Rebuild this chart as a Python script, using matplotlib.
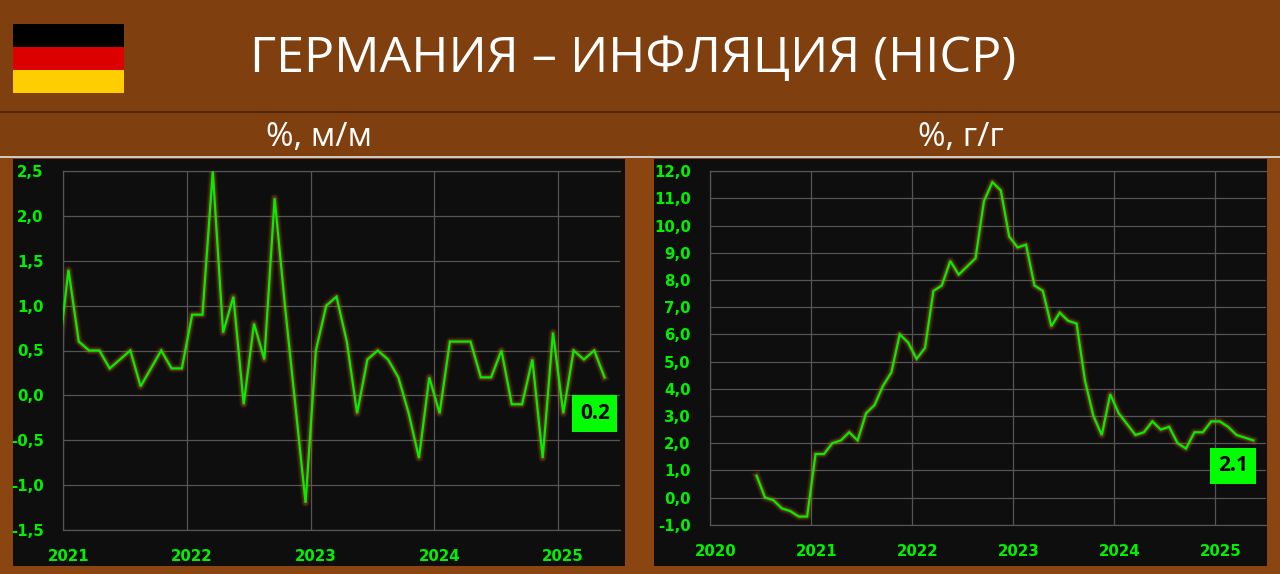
import numpy as np
import matplotlib
matplotlib.use("Agg")
import matplotlib.pyplot as plt
from matplotlib.patches import Rectangle
from matplotlib.transforms import ScaledTranslation

mom_values = [0.4, 1.4, 0.6, 0.5, 0.5, 0.3, 0.4, 0.5, 0.1, 0.3, 0.5, 0.3, 0.3,
              0.9, 0.9, 2.5, 0.7, 1.1, -0.1, 0.8, 0.4, 2.2, 1.0, -0.1, -1.2,
              0.5, 1.0, 1.1, 0.6, -0.2, 0.4, 0.5, 0.4, 0.2, -0.2, -0.7, 0.2,
              -0.2, 0.6, 0.6, 0.6, 0.2, 0.2, 0.5, -0.1, -0.1, 0.4, -0.7, 0.7,
              -0.2, 0.5, 0.4, 0.5, 0.2]
yoy_values = [0.8, 0.0, -0.1, -0.4, -0.5, -0.7, -0.7,
              1.6, 1.6, 2.0, 2.1, 2.4, 2.1, 3.1, 3.4, 4.1, 4.6, 6.0, 5.7,
              5.1, 5.5, 7.6, 7.8, 8.7, 8.2, 8.5, 8.8, 10.9, 11.6, 11.3, 9.6,
              9.2, 9.3, 7.8, 7.6, 6.3, 6.8, 6.5, 6.4, 4.3, 3.0, 2.3, 3.8,
              3.1, 2.7, 2.3, 2.4, 2.8, 2.5, 2.6, 2.0, 1.8, 2.4, 2.4, 2.8,
              2.8, 2.6, 2.3, 2.2, 2.1]
mom_years = [2021, 2022, 2023, 2024, 2025]
yoy_years = [2020, 2021, 2022, 2023, 2024, 2025]
mom_yticks = [-1.5, -1.0, -0.5, 0.0, 0.5, 1.0, 1.5, 2.0, 2.5]
yoy_yticks = [-1, 0, 1, 2, 3, 4, 5, 6, 7, 8, 9, 10, 11, 12]
title_text = "ГЕРМАНИЯ – ИНФЛЯЦИЯ (HICP)"
sub_left = "%, м/м"
sub_right = "%, г/г"

W, H = 1280, 574
HEADER = "#7f3f0f"
LOWER = "#8a4510"
PANEL = "#0e0e0e"
GRID = "#555555"
GREEN = "#00f000"
LABEL = "#00f000"
TEXTFONT = ["Open Sans", "Noto Sans", "DejaVu Sans"]

fig = plt.figure(figsize=(W / 100, H / 100), dpi=100, facecolor=LOWER)


def frect(x0, y0, x1, y1, color, z=0):
    fig.add_artist(Rectangle((x0 / W, 1 - y1 / H), (x1 - x0) / W, (y1 - y0) / H,
                             transform=fig.transFigure, facecolor=color,
                             edgecolor="none", zorder=z))


frect(0, 0, W, 157, HEADER)
frect(0, 111.3, W, 112.8, "#54280a", 1)
frect(0, 156.3, W, 158, "#cfc8c0", 1)
frect(13, 24, 124, 47, "#000000", 1)
frect(13, 47, 124, 70, "#dd0000", 1)
frect(13, 70, 124, 92.5, "#ffce00", 1)
frect(13, 158.5, 625, 566, PANEL, 1)
frect(654, 158.5, 1267, 566, PANEL, 1)

fig.text(633.5 / W, 1 - 59 / H, title_text, color="white", fontsize=36.3,
         family=TEXTFONT, ha="center", va="center", zorder=5)
fig.text(319 / W, 1 - 138 / H, sub_left, color="white", fontsize=24,
         family=TEXTFONT, ha="center", va="center", zorder=5)
fig.text(961 / W, 1 - 138 / H, sub_right, color="white", fontsize=24,
         family=TEXTFONT, ha="center", va="center", zorder=5)


def panel(x0, x1, y0, y1, values, start, n_months, years, yticks, box):
    ax = fig.add_axes([x0 / W, 1 - y1 / H, (x1 - x0) / W, (y1 - y0) / H], zorder=3)
    ax.set_facecolor("none")
    x = np.arange(len(values)) + start + 0.5
    for lw, a in ((6.5, 0.08), (5, 0.14), (3.4, 0.26)):
        ax.plot(x, values, color="#c8641e", lw=lw, alpha=a, solid_joinstyle="round", zorder=2)
    ax.plot(x, values, color=GREEN, lw=1.6, solid_joinstyle="miter", zorder=3)
    ax.set_xlim(0, n_months)
    ax.set_ylim(min(yticks), max(yticks))
    ax.set_xticks([12 * i for i in range(len(years))])
    ax.set_xticklabels([str(y) for y in years])
    ax.set_yticks(yticks)
    ax.set_yticklabels([f"{v:.1f}".replace(".", ",") for v in yticks])
    ax.grid(True, color=GRID, lw=0.9)
    ax.set_axisbelow(True)
    for s in ax.spines.values():
        s.set_color(GRID)
        s.set_linewidth(0.9)
    ax.spines["right"].set_visible(False)
    ax.tick_params(length=0, labelcolor=LABEL, labelsize=10.8)
    ax.tick_params(axis="x", pad=14)
    ax.tick_params(axis="y", pad=14)
    for lb in ax.get_xticklabels() + ax.get_yticklabels():
        lb.set_fontweight("bold")
    shift = ScaledTranslation(5 / 100, 0, fig.dpi_scale_trans)
    for lb in ax.get_xticklabels():
        lb.set_transform(lb.get_transform() + shift)
    bx0, by0, bx1, by1 = box
    frect(bx0, by0, bx1, by1, "#00ff00", 6)
    fig.text((bx0 + bx1) / 2 / W, 1 - ((by0 + by1) / 2) / H, f"{values[-1]:.1f}",
             color="black", fontsize=15, fontweight="bold", family=TEXTFONT,
             ha="center", va="center", zorder=7)


panel(63.3, 620, 171.3, 529.7, mom_values, -1, 54, mom_years, mom_yticks, (572.3, 395, 617.3, 432.3))
panel(710.3, 1266, 171.3, 524.7, yoy_values, 5, 66, yoy_years, yoy_yticks, (1210.3, 448, 1255.7, 483.7))

fig.savefig("out.png", dpi=100, facecolor=fig.get_facecolor())
